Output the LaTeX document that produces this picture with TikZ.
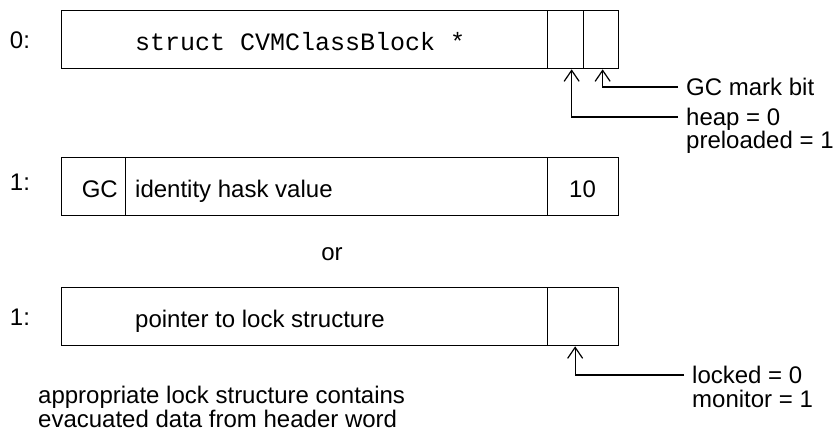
\documentclass[tikz,border=0pt]{standalone}
\usepackage{fontspec}
\setmainfont{Liberation Sans}
\setmonofont{Liberation Mono}
\usetikzlibrary{arrows.meta,calc}

\begin{document}
\begin{tikzpicture}[x=1pt,y=-1pt,
  cell/.style={draw, line width=1.3pt, minimum height=58pt, inner sep=0pt, anchor=north west},
  txt/.style={inner sep=0pt, font=\fontsize{24}{23}\selectfont},
  note/.style={txt, anchor=base west, inner xsep=8pt, text height=18pt, text depth=2pt},
  conn/.style={line width=1.2pt, -{Straight Barb[length=11pt,width=15pt,line width=1.2pt]}}
]
\useasboundingbox (0,0) rectangle (839,431);

% word 0: class pointer with two flag bits
\node[cell, minimum width=486pt] (c0a) at (61,10) {};
\node[cell, minimum width=36pt]  (c0b) at (547,10) {};
\node[cell, minimum width=35pt]  (c0c) at (583,10) {};
\node[txt, anchor=base] (w0) at (20,48) {0:};
\node[txt, anchor=base west] (t0) at (135,50) {\ttfamily\fontsize{25}{25}\selectfont struct CVMClassBlock *};

% word 1: hash layout
\node[cell, minimum width=64pt]  (c1a) at (61,157) {};
\node[cell, minimum width=422pt] (c1b) at (125,157) {};
\node[cell, minimum width=71pt]  (c1c) at (547,157) {};
\node[txt, anchor=base] (w1) at (20,190) {1:};
\node[txt, anchor=base east] (t1a) at (118,197) {GC};
\node[txt, anchor=base west] (t1b) at (135,197) {identity hask value};
\node[txt, anchor=base] (t1c) at (582.5,197) {10};

\node[txt, anchor=base] (or) at (332,260) {or};

% word 1: lock layout
\node[cell, minimum width=486pt] (c2a) at (61,287) {};
\node[cell, minimum width=71pt]  (c2b) at (547,287) {};
\node[txt, anchor=base] (w2) at (20,325) {1:};
\node[txt, anchor=base west] (t2) at (135,327) {pointer to lock structure};

% bit annotations
\coordinate (p0c) at ($(c0c.south)+(1.5,0)$);
\coordinate (p0b) at ($(c0b.south)+(6,0)$);
\coordinate (p2b) at ($(c2b.south)+(-8,0)$);

\node[note] (gcm) at (678,95) {GC mark bit};
\node[note] (heap) at (678,125) {heap = 0};
\node[note] (pre) at (678,148) {preloaded = 1};
\node[note] (lck) at (684,383) {locked = 0};
\node[note] (mon) at (684,407) {monitor = 1};

\draw[conn] (gcm.west) -| (p0c);
\draw[conn] (heap.west) -| (p0b);
\draw[conn] (lck.west) -| (p2b);

% the base anchor of this two-line node sits on its last line
\node[txt, anchor=base west, align=left, font=\fontsize{24}{22}\selectfont] (exp) at (38,427)
  {appropriate lock structure contains\\evacuated data from header word};
\end{tikzpicture}
\end{document}
